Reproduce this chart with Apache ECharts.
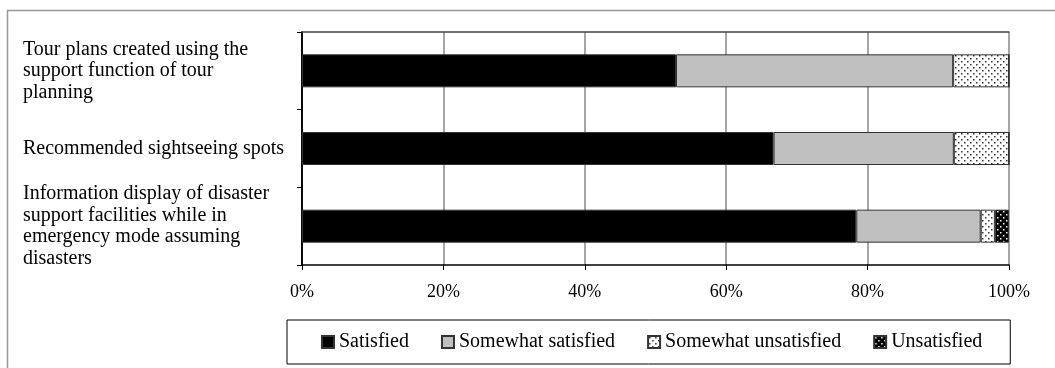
<!DOCTYPE html>
<html>
<head>
<meta charset="utf-8">
<script src="https://cdn.jsdelivr.net/npm/echarts@6/dist/echarts.min.js"></script>
<style>
  html, body { margin: 0; padding: 0; background: #fff; }
  #chart { width: 1055px; height: 368px; }
</style>
</head>
<body>
<div id="chart"></div>
<script>
// categories, top to bottom
const categories = [
  "Tour plans created using the\nsupport function of tour\nplanning",
  "Recommended sightseeing spots",
  "Information display of disaster\nsupport facilities while in\nemergency mode assuming\ndisasters"
];
const seriesNames = ["Satisfied", "Somewhat satisfied", "Somewhat unsatisfied", "Unsatisfied"];

// share of respondents (%)
const satisfied = [52.9, 66.7, 78.4];
const somewhatSatisfied = [39.2, 25.5, 17.6];
const somewhatUnsatisfied = [7.9, 7.8, 2.0];
const unsatisfied = [0, 0, 2.0];

const xTicks = [0, 20, 40, 60, 80, 100];

const FONT = "'Liberation Serif', 'Times New Roman', serif";

// small dotted tiles for the two "unsatisfied" groups
function dotTile(bg, dot) {
  const c = document.createElement("canvas");
  c.width = 6;
  c.height = 6;
  const ctx = c.getContext("2d");
  ctx.fillStyle = bg;
  ctx.fillRect(0, 0, 6, 6);
  ctx.fillStyle = dot;
  ctx.fillRect(1, 1, 1.5, 1.5);
  ctx.fillRect(4, 4, 1.5, 1.5);
  return { image: c, repeat: "repeat" };
}

const colors = ["#000000", "#c0c0c0", dotTile("#ffffff", "#333333"), dotTile("#000000", "#ffffff")];
const values = [satisfied, somewhatSatisfied, somewhatUnsatisfied, unsatisfied];

const chart = echarts.init(document.getElementById("chart"));

const option = {
  animation: false,
  backgroundColor: "#fff",
  textStyle: { fontFamily: FONT, color: "#000" },
  grid: { left: 302, right: 46, top: 32, bottom: 103 },
  graphic: [
    { type: "line", shape: { x1: 7, y1: 10.5, x2: 1055, y2: 10.5 }, style: { stroke: "#999", lineWidth: 1.5 } },
    { type: "line", shape: { x1: 7.5, y1: 10, x2: 7.5, y2: 368 }, style: { stroke: "#999", lineWidth: 1.5 } }
  ],
  legend: {
    data: seriesNames,
    left: 287,
    top: 320,
    padding: [12, 28, 12, 34],
    itemWidth: 12,
    itemHeight: 12,
    itemGap: 32,
    icon: "rect",
    borderColor: "#000",
    borderWidth: 1,
    textStyle: { fontFamily: FONT, fontSize: 20, color: "#000" }
  },
  xAxis: [
    {
      type: "value",
      min: xTicks[0],
      max: xTicks[xTicks.length - 1],
      interval: 20,
      axisLine: { show: true, lineStyle: { color: "#000", width: 1.5 } },
      axisTick: { show: true, length: 5, lineStyle: { color: "#000" } },
      axisLabel: { formatter: "{value}%", fontFamily: FONT, fontSize: 18, color: "#000", margin: 18 },
      splitLine: { show: true, lineStyle: { color: "#888", width: 1.5 } }
    },
    {
      type: "value",
      position: "top",
      min: 0,
      max: 100,
      axisLine: { show: true, lineStyle: { color: "#444", width: 1.5 } },
      axisTick: { show: false },
      axisLabel: { show: false },
      splitLine: { show: false }
    }
  ],
  yAxis: [
    {
      type: "category",
      inverse: true,
      data: categories,
      axisLine: { show: true, lineStyle: { color: "#000", width: 1.5 } },
      axisTick: { show: true, length: 5, lineStyle: { color: "#000" } },
      axisLabel: {
        align: "left",
        margin: 279,
        fontFamily: FONT,
        fontSize: 20,
        lineHeight: 21.5,
        color: "#000"
      }
    },
    {
      type: "category",
      inverse: true,
      position: "right",
      data: categories,
      axisLine: { show: true, lineStyle: { color: "#000", width: 1.5 } },
      axisTick: { show: false },
      axisLabel: { show: false }
    }
  ],
  series: seriesNames.map((name, i) => ({
    name: name,
    type: "bar",
    stack: "total",
    barWidth: 33,
    data: values[i],
    itemStyle: { color: colors[i], borderColor: "#333", borderWidth: 1 },
    emphasis: { disabled: true }
  }))
};

chart.setOption(option);
</script>
</body>
</html>
